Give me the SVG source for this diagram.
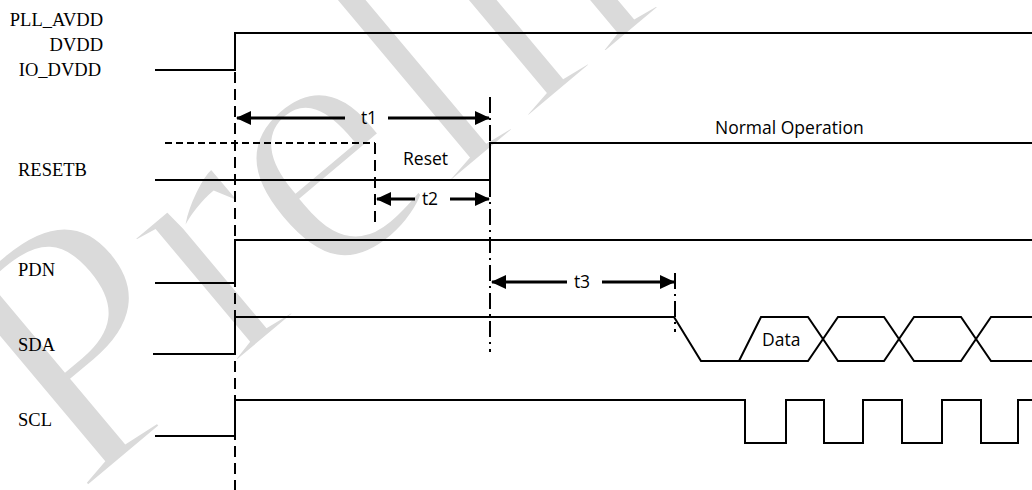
<svg xmlns="http://www.w3.org/2000/svg" width="1032" height="490" viewBox="0 0 1032 490">
<style>
.sig{fill:none;stroke:#000;stroke-width:2}
.dash{fill:none;stroke:#000;stroke-width:2;stroke-dasharray:11 6}
.sdash{fill:none;stroke:#000;stroke-width:2;stroke-dasharray:7 4}
.dd{fill:none;stroke:#000;stroke-width:2;stroke-dasharray:16 5 2 5}
.arr{fill:none;stroke:#000;stroke-width:3;marker-end:url(#ah)}
.lbl{font-family:"Liberation Serif","Times New Roman",serif;font-size:18.5px;fill:#000}
.txt{font-family:"Open Sans","Liberation Sans",sans-serif;font-size:17.5px;fill:#000}
.wm{font-family:"Liberation Serif","Times New Roman",serif;font-size:360px;fill:#dadada;stroke:#fff;stroke-width:8}
</style>
<defs>
<marker id="ah" viewBox="0 0 15 14" refX="14" refY="7" markerWidth="15" markerHeight="14" markerUnits="userSpaceOnUse" orient="auto">
<path d="M0,0 L15,7 L0,14 z" fill="#000"/>
</marker>
</defs>
<rect width="1032" height="490" fill="#fff"/>
<text class="wm" transform="translate(78,498) rotate(-40)">Preliminary</text>

<g id="power">
<text class="lbl" x="103" y="26" text-anchor="end">PLL_AVDD</text>
<text class="lbl" x="103" y="51" text-anchor="end">DVDD</text>
<text class="lbl" x="101" y="76" text-anchor="end">IO_DVDD</text>
<path class="sig" d="M155,70 H235 V33 H1032"/>
</g>
<g id="resetb">
<text class="lbl" x="18" y="176">RESETB</text>
<path class="sdash" d="M165,143 H375"/>
<path class="dash" d="M375,143 V225"/>
<path class="sig" d="M155,180 H490 V143 H1032"/>
<text class="txt" x="403" y="165">Reset</text>
<text class="txt" x="715" y="134">Normal Operation</text>
</g>
<g id="pdn">
<text class="lbl" x="18" y="276">PDN</text>
<path class="sig" d="M155,283 H235 V240 H1032"/>
</g>
<g id="sda">
<text class="lbl" x="18" y="351">SDA</text>
<path class="sig" d="M153,354 H235 V317 H674 L701,361 H739 L761,317 H808 L838,361 H884 L914,317 H961 L991,361 H1032"/>
<path class="sig" d="M739,361 H808 L838,317 H884 L914,361 H961 L991,317 H1032"/>
<text class="txt" x="762" y="346">Data</text>
</g>
<g id="scl">
<text class="lbl" x="18" y="426">SCL</text>
<path class="sig" d="M155,436 H235 V400 H745 V443 H786 V400 H824 V443 H863 V400 H902 V443 H942 V400 H981 V443 H1018 V400 H1032"/>
</g>

<g id="connectors">
<path class="dash" d="M235,72 V490"/>
<path class="dd" d="M490,97 V352"/>
<path class="dd" d="M675,273 V332"/>
<path class="arr" d="M345,118 H237"/>
<path class="arr" d="M388,118 H489"/>
<text class="txt" x="369" y="124" text-anchor="middle">t1</text>
<path class="arr" d="M415,199 H377"/>
<path class="arr" d="M450,199 H489"/>
<text class="txt" x="430" y="205" text-anchor="middle">t2</text>
<path class="arr" d="M567,282 H492"/>
<path class="arr" d="M602,282 H674"/>
<text class="txt" x="582" y="288" text-anchor="middle">t3</text>
</g>
</svg>
